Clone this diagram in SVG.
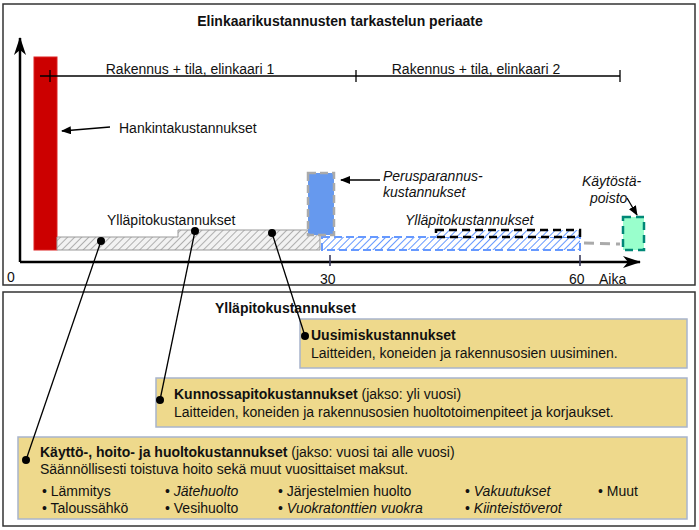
<svg xmlns="http://www.w3.org/2000/svg" width="699" height="530" viewBox="0 0 699 530">
<defs>
<style>
text{font-family:"Liberation Sans",Arial,sans-serif;font-size:14px;fill:#111}
.b{font-weight:bold}.i{font-style:italic}
.box{fill:#eed98c;stroke:#a8b4cc;stroke-width:1.5}
.ln{stroke:#000;stroke-width:1.3;fill:none}
</style>
<pattern id="hg" width="5" height="5" patternUnits="userSpaceOnUse" patternTransform="rotate(45)"><rect width="5" height="5" fill="#f2f2f2"/><line x1="0" y1="0" x2="0" y2="5" stroke="#999" stroke-width="1.5"/></pattern>
<pattern id="hb" width="5" height="5" patternUnits="userSpaceOnUse" patternTransform="rotate(45)"><rect width="5" height="5" fill="#fff"/><line x1="0" y1="0" x2="0" y2="5" stroke="#6699ff" stroke-width="2"/></pattern>
<marker id="ah" markerWidth="10" markerHeight="8" refX="9" refY="4" orient="auto" markerUnits="userSpaceOnUse"><path d="M0,0 L10,4 L0,8 Z" fill="#000"/></marker>
<marker id="ax" markerWidth="18" markerHeight="12" refX="17" refY="6" orient="auto" markerUnits="userSpaceOnUse"><path d="M0,0 L18,6 L0,12 L5,6 Z" fill="#000"/></marker>
</defs>
<rect x="3" y="4" width="692" height="281" fill="#fff" stroke="#333" stroke-width="1.5"/>
<rect x="3" y="292" width="692" height="234" fill="#fff" stroke="#333" stroke-width="1.5"/>
<text x="340" y="26" text-anchor="middle" class="b">Elinkaarikustannusten tarkastelun periaate</text>
<g id="chart">
<rect x="34" y="57" width="23" height="193" fill="#cc0000" stroke="#dd2222"/>
<path d="M57,237 H178 V230 H320 V250 H57 Z" fill="url(#hg)" stroke="#999"/>
<rect x="322" y="237" width="258" height="13" fill="url(#hb)" stroke="#6699ff" stroke-width="2" stroke-dasharray="8,4"/>
<rect x="436" y="230" width="144" height="7" fill="url(#hb)" stroke="#000" stroke-width="2.5" stroke-dasharray="8,5"/>
<rect x="308" y="173" width="26" height="62" fill="#6699ee" stroke="#aaa" stroke-width="2.5" stroke-dasharray="8,4"/>
<line x1="584" y1="243" x2="620" y2="244" stroke="#aaa" stroke-width="3" stroke-dasharray="10,6"/>
<rect x="623" y="217" width="21" height="33" fill="#99ffcc" stroke="#008877" stroke-width="2.5" stroke-dasharray="8,5"/>
<line x1="40" y1="76" x2="620" y2="76" class="ln"/>
<path d="M50,70 V82 M356,70 V82 M620,70 V82" class="ln"/>
<text x="190" y="74" text-anchor="middle">Rakennus + tila, elinkaari 1</text>
<text x="476" y="74" text-anchor="middle">Rakennus + tila, elinkaari 2</text>
<line x1="20" y1="262" x2="20" y2="38" stroke="#000" stroke-width="2.5" marker-end="url(#ax)"/>
<line x1="20" y1="262" x2="640" y2="262" stroke="#000" stroke-width="2.5" marker-end="url(#ax)"/>
<path d="M330,255 V266 M580,255 V266" stroke="#335" stroke-width="1.5"/>
<text x="7" y="282" font-size="12">0</text>
<text x="320" y="284" font-size="12">30</text>
<text x="569" y="284" font-size="12">60</text>
<text x="599" y="284" font-size="12">Aika</text>
<line x1="110" y1="127" x2="62" y2="131" class="ln" marker-end="url(#ah)"/>
<text x="119" y="133">Hankintakustannukset</text>
<line x1="380" y1="180" x2="341" y2="180" class="ln" marker-end="url(#ah)"/>
<text x="383" y="181" class="i">Perusparannus-</text>
<text x="383" y="197" class="i">kustannukset</text>
<text x="582" y="186" class="i">Käytöstä-</text>
<text x="590" y="203" class="i">poisto</text>
<line x1="627" y1="198" x2="637" y2="215" class="ln" marker-end="url(#ah)"/>
<text x="107" y="225">Ylläpitokustannukset</text>
<text x="405" y="225" class="i">Ylläpitokustannukset</text>
</g>
<text x="215" y="313" class="b">Ylläpitokustannukset</text>
<g id="uusimis">
<rect x="300" y="319" width="387" height="49" class="box"/>
<text x="311" y="340" class="b">Uusimiskustannukset</text>
<text x="311" y="358">Laitteiden, koneiden ja rakennusosien uusiminen.</text>
</g>
<g id="kunnossapito">
<rect x="156" y="378" width="531" height="49" class="box"/>
<text x="174" y="399"><tspan class="b">Kunnossapitokustannukset</tspan> (jakso: yli vuosi)</text>
<text x="174" y="417">Laitteiden, koneiden ja rakennusosien huoltotoimenpiteet ja korjaukset.</text>
</g>
<g id="kaytto">
<rect x="18" y="437" width="669" height="82" class="box"/>
<text x="40" y="457"><tspan class="b">Käyttö-, hoito- ja huoltokustannukset</tspan> (jakso: vuosi tai alle vuosi)</text>
<text x="40" y="474">Säännöllisesti toistuva hoito sekä muut vuosittaiset maksut.</text>
<text x="42" y="496">• Lämmitys</text>
<text x="42" y="513">• Taloussähkö</text>
<text x="165" y="496">• <tspan class="i">Jätehuolto</tspan></text>
<text x="165" y="513">• Vesihuolto</text>
<text x="278" y="496">• Järjestelmien huolto</text>
<text x="278" y="513">• <tspan class="i">Vuokratonttien vuokra</tspan></text>
<text x="465" y="496">• <tspan class="i">Vakuutukset</tspan></text>
<text x="465" y="513">• <tspan class="i">Kiinteistöverot</tspan></text>
<text x="598" y="496">• Muut</text>
</g>
<g id="connectors">
<line x1="101" y1="241" x2="26" y2="460" class="ln"/>
<line x1="195" y1="231" x2="160" y2="400" class="ln"/>
<line x1="272" y1="233" x2="305" y2="336" class="ln"/>
<circle cx="101" cy="241" r="4"/><circle cx="195" cy="231" r="4"/><circle cx="272" cy="233" r="4"/>
<circle cx="26" cy="460" r="4"/><circle cx="160" cy="400" r="4"/><circle cx="305" cy="336" r="4"/>
</g>
</svg>
